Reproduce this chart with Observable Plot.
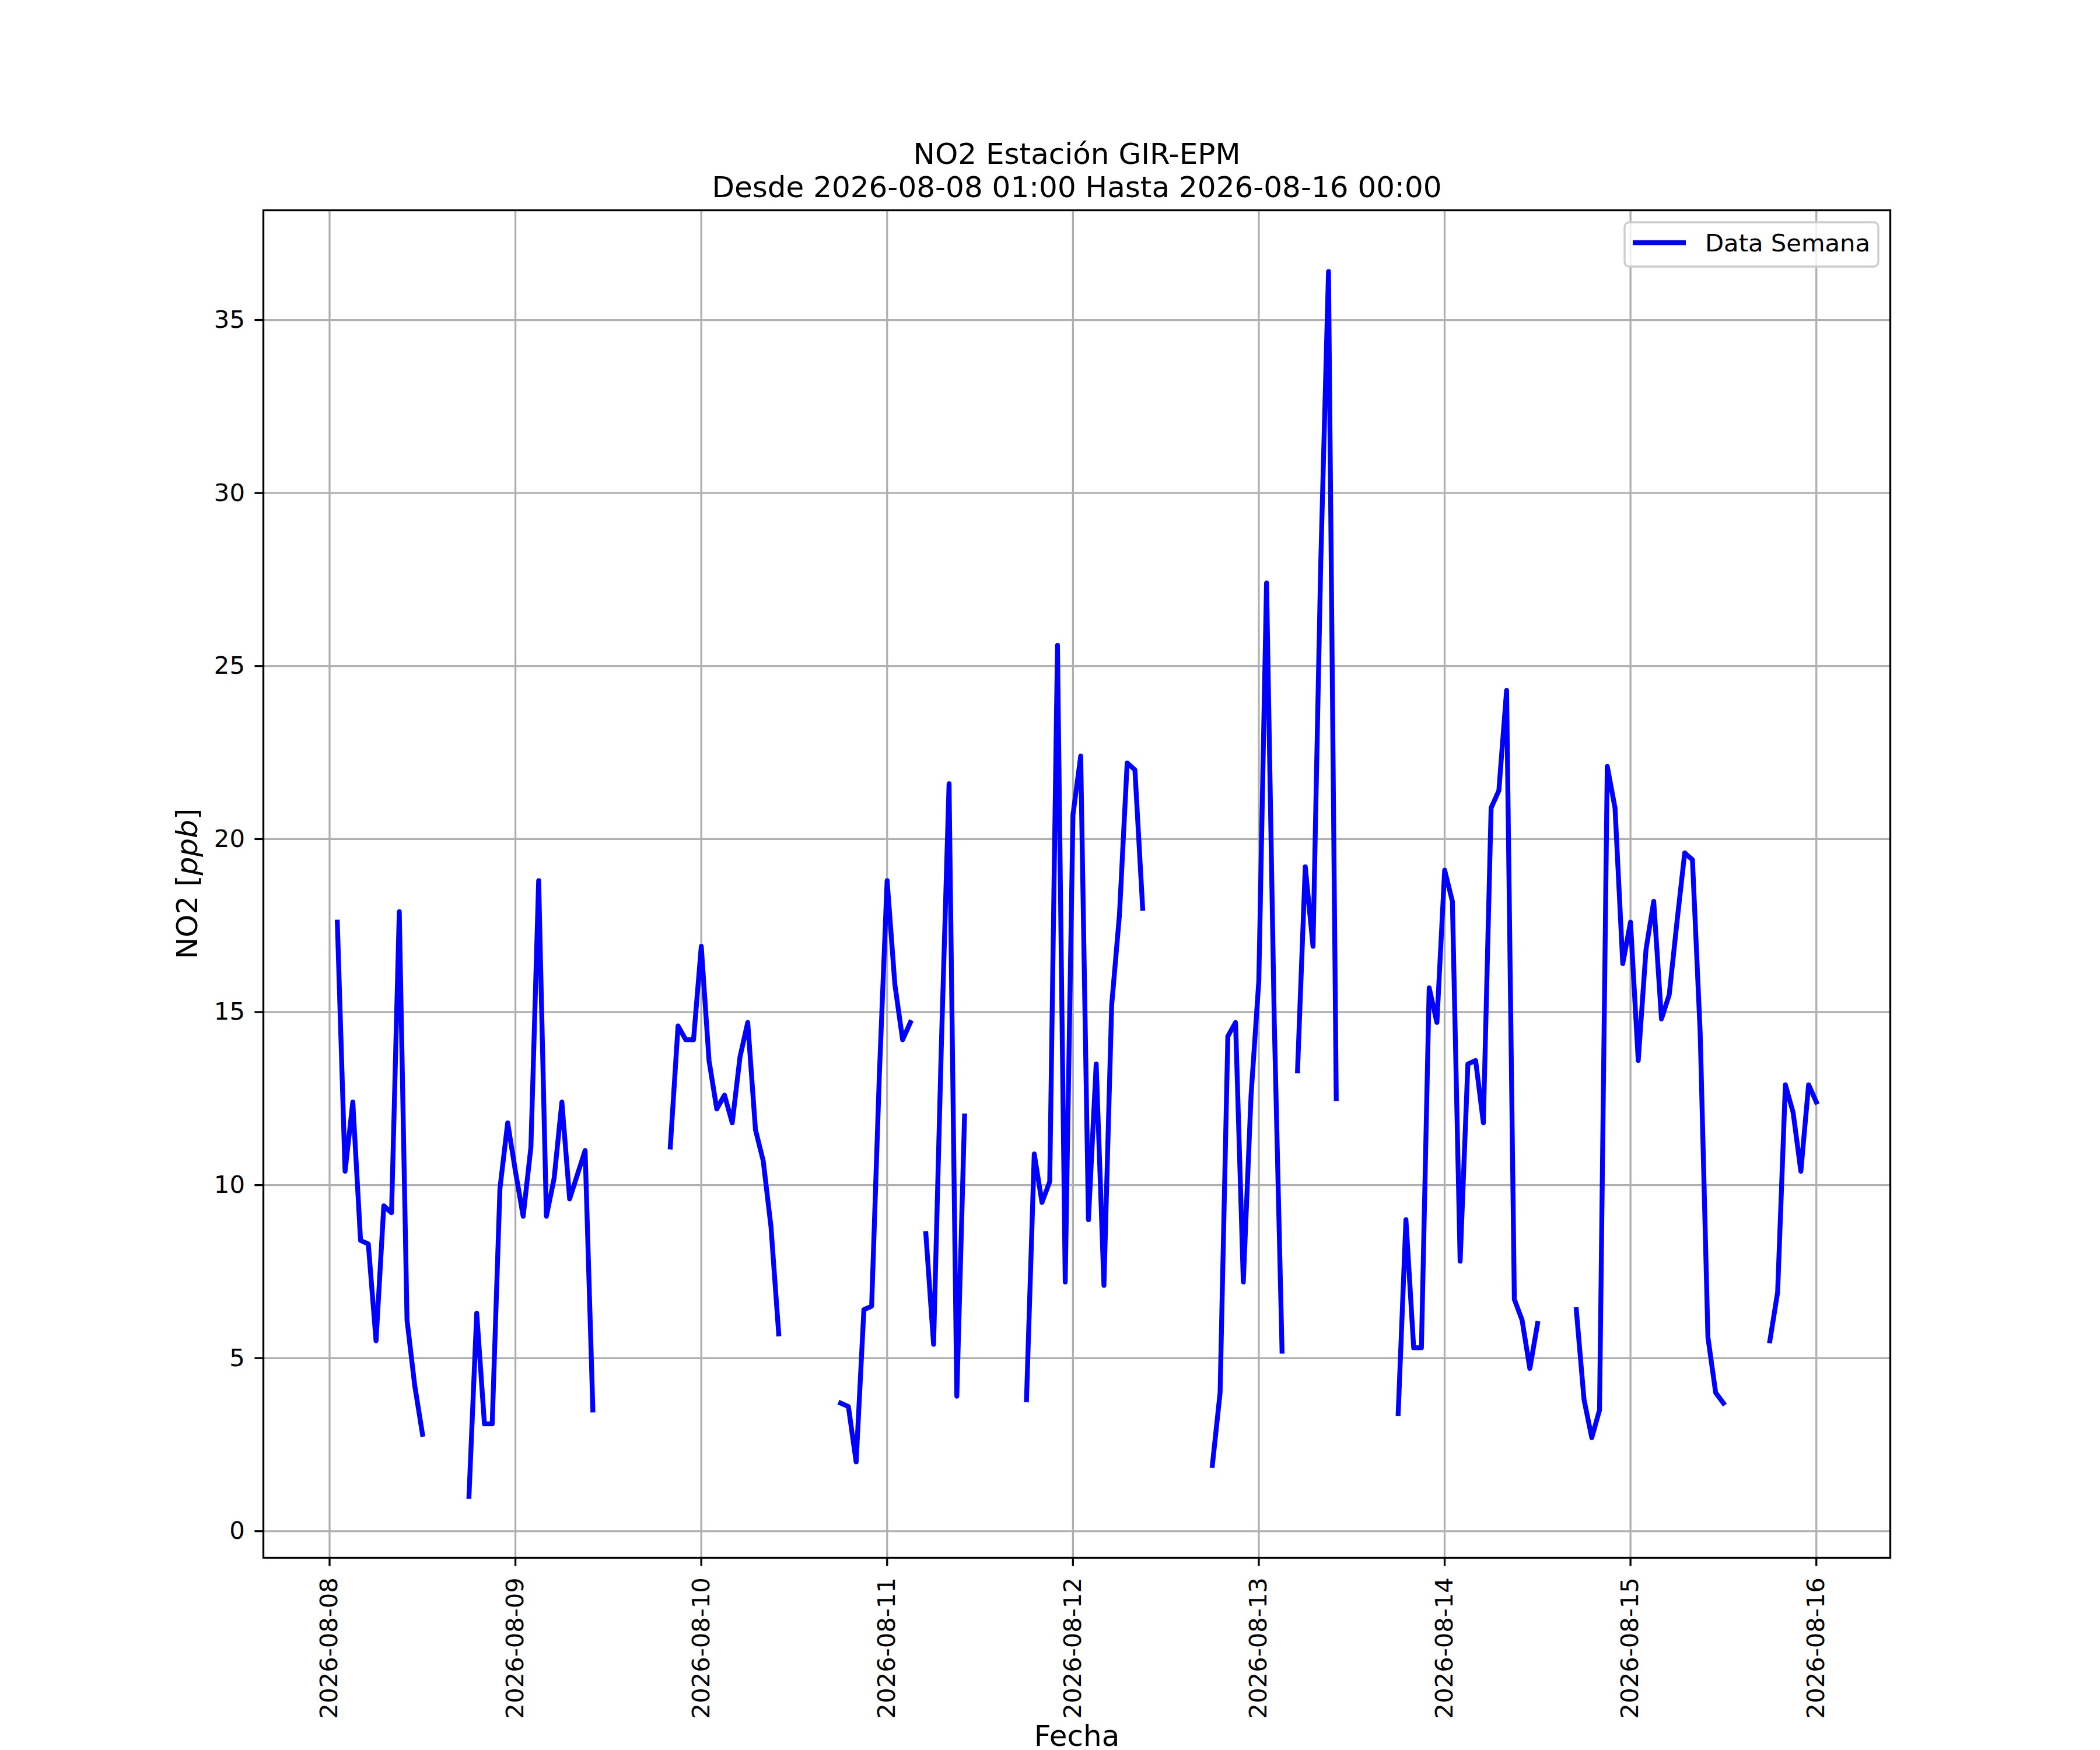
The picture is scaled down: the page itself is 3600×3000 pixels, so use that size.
<!DOCTYPE html>
<html>
<head>
<meta charset="utf-8">
<script src="https://cdn.jsdelivr.net/npm/d3@7"></script>
<script src="https://cdn.jsdelivr.net/npm/@observablehq/plot@0.6"></script>
<style>
  html, body { margin: 0; padding: 0; background: white; }
  svg { display: block; }
</style>
</head>
<body>
<div id="chart"></div>
<script>
// ---- Data (hourly NO2 ppb, segments separated by missing data) ----
const segmentStarts = [
  "2026-08-08T01:00Z", "2026-08-08T18:00Z", "2026-08-09T20:00Z", "2026-08-10T18:00Z",
  "2026-08-11T05:00Z", "2026-08-11T18:00Z", "2026-08-12T18:00Z", "2026-08-13T05:00Z",
  "2026-08-13T18:00Z", "2026-08-14T17:00Z", "2026-08-15T18:00Z"
];
const seg1 = [17.6, 10.4, 12.4, 8.4, 8.3, 5.5, 9.4, 9.2, 17.9, 6.1, 4.2, 2.8];
const seg2 = [1.0, 6.3, 3.1, 3.1, 9.9, 11.8, 10.4, 9.1, 11.1, 18.8, 9.1, 10.2, 12.4, 9.6, 10.3, 11.0, 3.5];
const seg3 = [11.1, 14.6, 14.2, 14.2, 16.9, 13.6, 12.2, 12.6, 11.8, 13.7, 14.7, 11.6, 10.7, 8.8, 5.7];
const seg4 = [3.7, 3.6, 2.0, 6.4, 6.5, 13.2, 18.8, 15.8, 14.2, 14.7];
const seg5 = [8.6, 5.4, 14.0, 21.6, 3.9, 12.0];
const seg6 = [3.8, 10.9, 9.5, 10.1, 25.6, 7.2, 20.7, 22.4, 9.0, 13.5, 7.1, 15.2, 17.8, 22.2, 22.0, 18.0];
const seg7 = [1.9, 4.0, 14.3, 14.7, 7.2, 12.6, 15.9, 27.4, 14.7, 5.2];
const seg8 = [13.3, 19.2, 16.9, 28.0, 36.4, 12.5];
const seg9 = [3.4, 9.0, 5.3, 5.3, 15.7, 14.7, 19.1, 18.2, 7.8, 13.5, 13.6, 11.8, 20.9, 21.4, 24.3, 6.7, 6.1, 4.7, 6.0];
const seg10 = [6.4, 3.8, 2.7, 3.5, 22.1, 20.9, 16.4, 17.6, 13.6, 16.8, 18.2, 14.8, 15.5, 17.6, 19.6, 19.4, 14.4, 5.6, 4.0, 3.7];
const seg11 = [5.5, 6.9, 12.9, 12.1, 10.4, 12.9, 12.4];
const segmentValues = [seg1, seg2, seg3, seg4, seg5, seg6, seg7, seg8, seg9, seg10, seg11];

const xTickLabels = ["2026-08-08", "2026-08-09", "2026-08-10", "2026-08-11",
                     "2026-08-12", "2026-08-13", "2026-08-14", "2026-08-15", "2026-08-16"];
const yTicks = [0, 5, 10, 15, 20, 25, 30, 35];

const titleLines = ["NO2 Estación GIR-EPM", "Desde 2026-08-08 01:00 Hasta 2026-08-16 00:00"];
const xLabel = "Fecha";
const legendLabel = "Data Semana";

// ---- Build table ----
const HOUR = 3600 * 1000;
const rows = [];
segmentValues.forEach((vals, s) => {
  const t0 = new Date(segmentStarts[s]).getTime();
  vals.forEach((v, i) => rows.push({date: new Date(t0 + i * HOUR), value: v, seg: s}));
});
const xTicks = xTickLabels.map(d => new Date(d + "T00:00Z"));

// matplotlib-like 5% margins
const [tMin, tMax] = d3.extent(rows, d => d.date.getTime());
const [vMin, vMax] = d3.extent(rows, d => d.value);
const tPad = 0.05 * (tMax - tMin), vPad = 0.05 * (vMax - vMin);

const W = 3600, H = 3000;
const ML = 451, MR = 360, MT = 360, MB = 330;
const LW = 3.33, FS = 41.7, FL = 50;

const chart = Plot.plot({
  width: W, height: H,
  marginLeft: ML, marginRight: MR, marginTop: MT, marginBottom: MB,
  style: {fontFamily: "DejaVu Sans", background: "white", overflow: "visible", color: "black"},
  x: {type: "utc", domain: [new Date(tMin - tPad), new Date(tMax + tPad)]},
  y: {domain: [vMin - vPad, vMax + vPad]},
  marks: [
    Plot.gridX(xTicks, {stroke: "#b0b0b0", strokeOpacity: 1, strokeWidth: LW}),
    Plot.gridY(yTicks, {stroke: "#b0b0b0", strokeOpacity: 1, strokeWidth: LW}),
    Plot.line(rows, {x: "date", y: "value", z: "seg", stroke: "blue", strokeWidth: 8.33,
                     strokeLinejoin: "round", strokeLinecap: "square"}),
    Plot.frame({stroke: "black", strokeWidth: LW}),
    Plot.axisX({ticks: xTicks, tickFormat: d3.utcFormat("%Y-%m-%d"), tickRotate: -90,
                tickSize: 14.6, tickPadding: 19, fontSize: FS, strokeWidth: LW, label: null}),
    Plot.axisY({ticks: yTicks, tickFormat: d => String(d), tickSize: 14.6, tickPadding: 17,
                fontSize: FS, strokeWidth: LW, label: null}),
    Plot.text([titleLines[0]], {text: d => d, frameAnchor: "top", lineAnchor: "bottom", dy: -80, fontSize: FL}),
    Plot.text([titleLines[1]], {text: d => d, frameAnchor: "top", lineAnchor: "bottom", dy: -23, fontSize: FL}),
    Plot.text([xLabel], {text: d => d, frameAnchor: "bottom", lineAnchor: "bottom", dy: 322, fontSize: FL})
  ]
});

// y label with italic unit, legend
const svg = d3.select(chart);
const ylab = svg.append("text")
  .attr("transform", `translate(338,${(MT + H - MB) / 2}) rotate(-90)`)
  .attr("text-anchor", "middle")
  .attr("font-family", "DejaVu Sans")
  .attr("font-size", FL)
  .attr("fill", "black");
ylab.append("tspan").text("NO2 [");
ylab.append("tspan").attr("font-style", "italic").text("ppb");
ylab.append("tspan").text("]");

const lg = svg.append("g");
lg.append("rect").attr("x", 2785).attr("y", 381).attr("width", 435).attr("height", 76)
  .attr("rx", 8).attr("fill", "white").attr("fill-opacity", 0.8)
  .attr("stroke", "#cccccc").attr("stroke-width", LW);
lg.append("line").attr("x1", 2799).attr("x2", 2890).attr("y1", 416).attr("y2", 416)
  .attr("stroke", "blue").attr("stroke-width", 8.33).attr("stroke-linecap", "butt");
lg.append("text").attr("x", 2923).attr("y", 431).attr("font-family", "DejaVu Sans")
  .attr("text-anchor", "start")
  .attr("font-size", FS).attr("fill", "black").text(legendLabel);

document.getElementById("chart").appendChild(chart);
</script>
</body>
</html>
